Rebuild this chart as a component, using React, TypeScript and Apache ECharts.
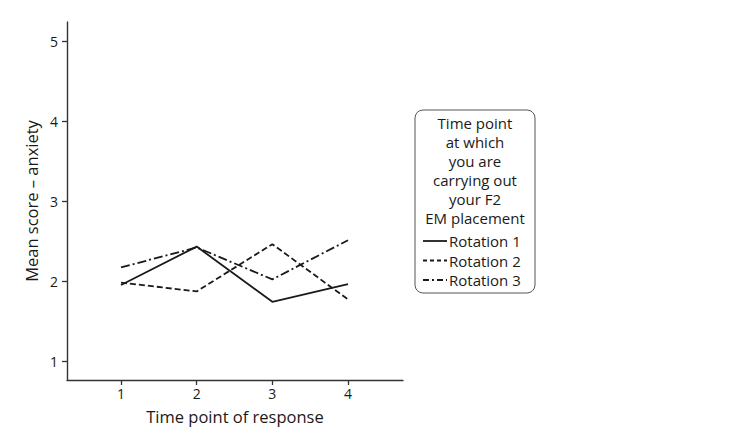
import React, { useEffect, useRef } from "react";
import * as echarts from "echarts";

const timePoints = [1, 2, 3, 4];
const rotation1 = [1.95, 2.43, 1.74, 1.96];
const rotation2 = [1.98, 1.87, 2.46, 1.77];
const rotation3 = [2.17, 2.42, 2.02, 2.51];
const seriesNames = ["Rotation 1", "Rotation 2", "Rotation 3"];
const yTicks = [1, 2, 3, 4, 5];
const legendTitle = ["Time point", "at which", "you are", "carrying out", "your F2", "EM placement"];

const FONT = "'Open Sans', 'Noto Sans', sans-serif";
const INK = "#1a1a1a";

export default function App() {
  const ref = useRef<HTMLDivElement>(null);
  useEffect(() => {
    if (!ref.current) return;
    const chart = echarts.init(ref.current, undefined, { renderer: "svg" });
    const dashes: any[] = ["solid", [6, 3], [9, 3, 2, 3]];
    const data = [rotation1, rotation2, rotation3];
    const series = data.map((vals, i) => ({
      name: seriesNames[i],
      type: "line",
      data: timePoints.map((t, j) => [t, vals[j]]),
      showSymbol: false,
      symbol: "none",
      lineStyle: { color: INK, width: 1.8, type: dashes[i] },
    }));

    const lx = 415, ly = 110, lw = 120, lh = 183;
    const graphics: any[] = [
      { type: "rect", shape: { x: lx, y: ly, width: lw, height: lh, r: 8 }, style: { fill: "#fff", stroke: "#555", lineWidth: 1 } },
    ];
    legendTitle.forEach((t, i) => {
      graphics.push({
        type: "text",
        x: lx + lw / 2,
        y: 123 + i * 19,
        style: { text: t, font: `15px ${FONT}`, fill: INK, align: "center", verticalAlign: "middle" },
      });
    });
    seriesNames.forEach((n, i) => {
      const yy = 241 + i * 19.5;
      graphics.push({
        type: "line",
        shape: { x1: 423, y1: yy, x2: 447, y2: yy },
        style: { stroke: INK, lineWidth: 1.8, lineDash: i === 0 ? null : i === 1 ? [4, 3] : [6, 3, 2, 3] },
      });
      graphics.push({
        type: "text",
        x: 449,
        y: yy,
        style: { text: n, font: `15px ${FONT}`, fill: INK, align: "left", verticalAlign: "middle" },
      });
    });

    chart.setOption({
      animation: false,
      grid: { left: 67, top: 22, width: 336, height: 358, containLabel: false },
      xAxis: {
        type: "value",
        min: 0.286,
        max: 4.727,
        name: "Time point of response",
        nameLocation: "middle",
        nameGap: 28,
        nameTextStyle: { fontFamily: FONT, fontSize: 16.5, color: INK },
        axisLine: { show: true, lineStyle: { color: "#333", width: 1.4 } },
        axisTick: { show: true, length: 5, lineStyle: { color: "#333", width: 1.3 }, customValues: timePoints },
        axisLabel: { customValues: timePoints, fontFamily: FONT, fontSize: 14, color: INK, margin: 6 },
        splitLine: { show: false },
      },
      yAxis: {
        type: "value",
        min: 0.7625,
        max: 5.2375,
        name: "Mean score – anxiety",
        nameLocation: "middle",
        nameGap: 27,
        nameTextStyle: { fontFamily: FONT, fontSize: 16.5, color: INK },
        axisLine: { show: true, lineStyle: { color: "#333", width: 1.4 } },
        axisTick: { show: true, length: 5, lineStyle: { color: "#333", width: 1.3 }, customValues: yTicks },
        axisLabel: { customValues: yTicks, fontFamily: FONT, fontSize: 14, color: INK, margin: 9 },
        splitLine: { show: false },
      },
      series,
      graphic: graphics,
    });
    return () => chart.dispose();
  }, []);
  return (
    <div
      ref={ref}
      style={{ position: "fixed", left: 0, top: 0, width: 739, height: 436, background: "#fff" }}
    />
  );
}
